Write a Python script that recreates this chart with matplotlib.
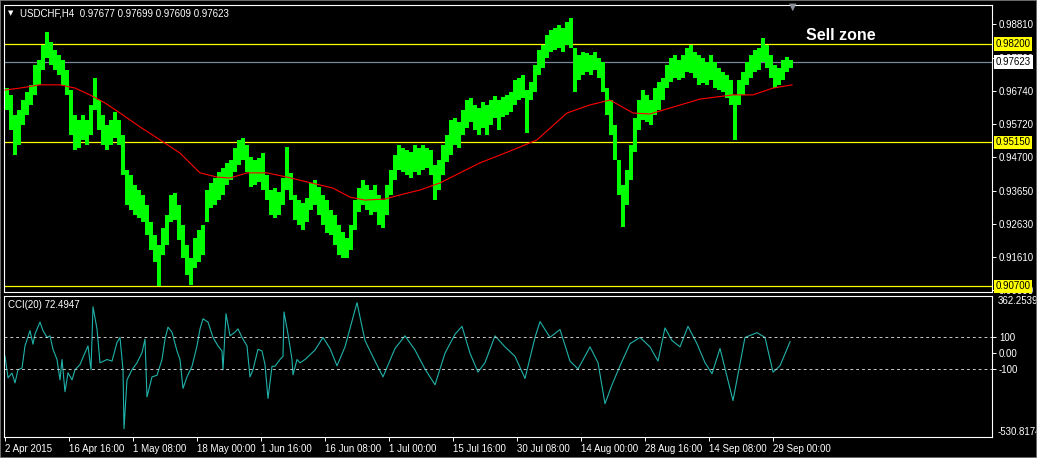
import numpy as np
import matplotlib.pyplot as plt
import matplotlib.transforms as mtransforms

# ---- data ----
# price range (high / low) for every group of 4 H4 bars, oldest first
hi = [0.9683, 0.9662, 0.9600, 0.9615, 0.9646, 0.9671, 0.9693, 0.9754, 0.9770, 0.9816,
      0.9856, 0.9825, 0.9801, 0.9785, 0.9770, 0.9739, 0.9677, 0.9600, 0.9584, 0.9600,
      0.9584, 0.9631, 0.9714, 0.9646, 0.9600, 0.9569, 0.9584, 0.9609, 0.9584, 0.9538,
      0.9430, 0.9414, 0.9384, 0.9368, 0.9353, 0.9322, 0.9269, 0.9229, 0.9198, 0.9251,
      0.9291, 0.9353, 0.9359, 0.9322, 0.9260, 0.9198, 0.9158, 0.9220, 0.9245, 0.9260,
      0.9368, 0.9390, 0.9405, 0.9424, 0.9436, 0.9452, 0.9461, 0.9498, 0.9523, 0.9529,
      0.9507, 0.9470, 0.9461, 0.9467, 0.9482, 0.9414, 0.9368, 0.9374, 0.9362, 0.9405,
      0.9501, 0.9421, 0.9353, 0.9337, 0.9328, 0.9343, 0.9390, 0.9399, 0.9377, 0.9353,
      0.9337, 0.9306, 0.9291, 0.9260, 0.9238, 0.9220, 0.9260, 0.9337, 0.9374, 0.9399,
      0.9384, 0.9368, 0.9384, 0.9353, 0.9337, 0.9384, 0.9430, 0.9476, 0.9507, 0.9498,
      0.9492, 0.9486, 0.9507, 0.9498, 0.9507, 0.9498, 0.9492, 0.9445, 0.9461, 0.9507,
      0.9538, 0.9584, 0.9591, 0.9578, 0.9615, 0.9646, 0.9652, 0.9631, 0.9622, 0.9640,
      0.9631, 0.9646, 0.9658, 0.9646, 0.9655, 0.9662, 0.9671, 0.9708, 0.9714, 0.9723,
      0.9677, 0.9702, 0.9754, 0.9801, 0.9816, 0.9847, 0.9862, 0.9869, 0.9878, 0.9869,
      0.9887, 0.9900, 0.9807, 0.9785, 0.9795, 0.9791, 0.9785, 0.9795, 0.9776, 0.9764,
      0.9683, 0.9646, 0.9569, 0.9461, 0.9384, 0.9430, 0.9507, 0.9591, 0.9646, 0.9677,
      0.9662, 0.9646, 0.9683, 0.9702, 0.9714, 0.9754, 0.9776, 0.9785, 0.9770, 0.9785,
      0.9807, 0.9816, 0.9795, 0.9785, 0.9776, 0.9764, 0.9785, 0.9764, 0.9745, 0.9733,
      0.9723, 0.9708, 0.9662, 0.9708, 0.9733, 0.9764, 0.9785, 0.9801, 0.9807, 0.9838,
      0.9816, 0.9785, 0.9754, 0.9745, 0.9770, 0.9779, 0.9770]
lo = [0.9615, 0.9554, 0.9476, 0.9507, 0.9569, 0.9600, 0.9631, 0.9662, 0.9693, 0.9739,
      0.9776, 0.9754, 0.9739, 0.9723, 0.9693, 0.9662, 0.9538, 0.9492, 0.9498, 0.9523,
      0.9507, 0.9538, 0.9615, 0.9554, 0.9507, 0.9492, 0.9507, 0.9529, 0.9507, 0.9414,
      0.9322, 0.9306, 0.9291, 0.9282, 0.9269, 0.9229, 0.9183, 0.9146, 0.9071, 0.9167,
      0.9198, 0.9269, 0.9275, 0.9214, 0.9158, 0.9105, 0.9074, 0.9127, 0.9146, 0.9167,
      0.9269, 0.9313, 0.9322, 0.9337, 0.9353, 0.9384, 0.9399, 0.9424, 0.9445, 0.9461,
      0.9424, 0.9377, 0.9384, 0.9393, 0.9368, 0.9337, 0.9291, 0.9282, 0.9291, 0.9322,
      0.9368, 0.9337, 0.9275, 0.9260, 0.9245, 0.9269, 0.9306, 0.9322, 0.9291, 0.9260,
      0.9235, 0.9229, 0.9198, 0.9167, 0.9158, 0.9158, 0.9183, 0.9245, 0.9300, 0.9322,
      0.9306, 0.9291, 0.9300, 0.9260, 0.9251, 0.9291, 0.9353, 0.9399, 0.9430, 0.9424,
      0.9414, 0.9405, 0.9424, 0.9414, 0.9430, 0.9436, 0.9414, 0.9337, 0.9368, 0.9414,
      0.9455, 0.9476, 0.9507, 0.9498, 0.9538, 0.9560, 0.9578, 0.9554, 0.9538, 0.9560,
      0.9538, 0.9569, 0.9591, 0.9554, 0.9594, 0.9600, 0.9609, 0.9631, 0.9646, 0.9652,
      0.9544, 0.9646, 0.9671, 0.9723, 0.9745, 0.9776, 0.9795, 0.9801, 0.9807, 0.9795,
      0.9816, 0.9807, 0.9671, 0.9708, 0.9723, 0.9733, 0.9723, 0.9739, 0.9714, 0.9671,
      0.9600, 0.9538, 0.9461, 0.9353, 0.9254, 0.9322, 0.9399, 0.9486, 0.9554, 0.9584,
      0.9578, 0.9569, 0.9600, 0.9615, 0.9646, 0.9683, 0.9702, 0.9714, 0.9708, 0.9714,
      0.9733, 0.9730, 0.9714, 0.9693, 0.9699, 0.9693, 0.9708, 0.9683, 0.9677, 0.9671,
      0.9652, 0.9631, 0.9523, 0.9631, 0.9662, 0.9693, 0.9714, 0.9733, 0.9739, 0.9764,
      0.9745, 0.9714, 0.9683, 0.9693, 0.9708, 0.9733, 0.9745]

# moving average (red line): bar index, value
ma_idx = [0, 15, 35, 55, 70, 85, 100, 115, 135, 155, 175, 195, 212, 225, 242, 262, 282,
          302, 328, 345, 360, 380, 395, 415, 435, 455, 475, 495, 515, 532, 562, 585, 605,
          628, 645, 682, 695, 728, 748, 768, 787]
ma = [0.9677, 0.9683, 0.9693, 0.9693, 0.9683, 0.9662, 0.9637, 0.9606, 0.9563, 0.9523,
      0.9482, 0.9421, 0.9408, 0.9405, 0.9421, 0.9421, 0.9408, 0.9393, 0.9374, 0.9346,
      0.9337, 0.9340, 0.9353, 0.9368, 0.9390, 0.9421, 0.9452, 0.9476, 0.9501, 0.9523,
      0.9606, 0.9631, 0.9646, 0.9606, 0.9603, 0.9637, 0.9649, 0.9662, 0.9662, 0.9683,
      0.9693]

# CCI(20): bar index, value
cci_idx = [0, 3, 7, 10, 13, 17, 20, 25, 28, 30, 35, 38, 42, 45, 48, 52, 55, 57, 60, 63,
           67, 70, 75, 80, 83, 86, 88, 92, 95, 102, 107, 112, 115, 118, 119, 122, 127, 132,
           137, 140, 142, 147, 152, 157, 160, 163, 167, 172, 175, 178, 182, 187, 192, 195,
           198, 203, 208, 213, 217, 218, 221, 225, 230, 233, 237, 242, 245, 248, 253, 257,
           260, 263, 267, 270, 275, 278, 279, 283, 287, 288, 292, 295,
           300, 310, 318, 325, 332, 340, 352, 360, 370, 378, 390, 400, 410, 420, 430, 440,
           450, 457, 465, 473, 480, 490, 500, 510, 520, 530, 535, 545, 555, 565, 573, 585,
           593, 600, 607, 615, 625, 635, 645, 653, 660, 667, 675, 683, 692, 700, 707, 715,
           728, 740, 752, 760, 768, 775, 785]
cci = [-19, -156, -126, -188, -105, -94, 46, 143, 57, 121, 197, 143, 100, 110, 25, -40,
       -169, -40, -244, -124, -169, -105, -72, 3, 46, -105, 294, 154, -61, -40, -50, 68, 100,
       -105, -479, -169, -105, -61, 3, 89, -277, -150, -140, -40, 89, 165, 133, 14, -40,
       -223, -150, -83, 46, 154, 218, 197, 100, 46, 14, -105, 250, 110, 133, 154, 100, 46,
       -150, -105, 25, 14, -72, -287, -83, -83, -40, -20, 261, 121, -40, -137, -40, -61,
       -40, 20, 100, 30, -80, 40, 320, 80, -50, -150, 30, 110, 20, -100, -200, 0,
       120, 170, 0, -120, -60, 110, 40, -20, -160, 100, 200, 100, 150, -50, -100, 40,
       -60, -320, -200, -80, 60, 100, 40, -50, 160, 80, 40, 170, 60, -60, -130, 30,
       -300, 100, 130, 100, -120, -80, 72]

levels_yellow = [0.98200, 0.95150, 0.90700]
bid = 0.97623
price_ticks = [0.98810, 0.97760, 0.96740, 0.95720, 0.94700, 0.93650, 0.92630, 0.91610, 0.90590]
date_pos = [0, 64, 128, 192, 256, 320, 384, 448, 512, 576, 640, 704, 768]
date_lbl = ['2 Apr 2015', '16 Apr 16:00', '1 May 08:00', '18 May 00:00', '1 Jun 16:00',
            '16 Jun 08:00', '1 Jul 00:00', '15 Jul 16:00', '30 Jul 08:00', '14 Aug 00:00',
            '28 Aug 16:00', '14 Sep 08:00', '29 Sep 00:00']
cci_top, cci_bot = 362.2539, -530.8174

# ---- layout in pixels ----
W, H = 1037, 458
fig = plt.figure(figsize=(W / 100, H / 100), dpi=100, facecolor='black')
FONT = 'Liberation Sans'
fs = 7


def box(l, t, r, b):
    return [l / W, 1 - b / H, (r - l) / W, (b - t) / H]


ax = fig.add_axes(box(4, 5, 992, 292), facecolor='black')
ax2 = fig.add_axes(box(4, 296, 992, 437), facecolor='black', sharex=ax)

for a in (ax, ax2):
    for s in a.spines.values():
        s.set_color('white')
        s.set_linewidth(0.8)
    a.yaxis.tick_right()
    a.tick_params(axis='y', colors='white', length=3, width=0.7, pad=2,
                  labelsize=fs, labelfontfamily=FONT)

ax.set_xlim(-1, 987)
ax.set_ylim(0.90529, 0.99397)

# price bars, one block per 4 bars
hi_a, lo_a = np.array(hi), np.array(lo)
grp = np.arange(len(hi_a)) * 4 + 1.5
ax.bar(grp, hi_a - lo_a, bottom=lo_a, width=4, color='#00ff00', linewidth=0, zorder=3)
ax.plot(ma_idx, ma, color='#ff0000', lw=0.8, zorder=4)
for lv in levels_yellow:
    ax.axhline(lv, color='#ffff00', lw=0.9, zorder=2)
ax.axhline(bid, color='#778899', lw=0.9, zorder=2)

ax.set_yticks(price_ticks)
ax.set_yticklabels(['%.5f' % p for p in price_ticks])
ax.tick_params(axis='x', bottom=False, labelbottom=False)

tr = mtransforms.blended_transform_factory(fig.transFigure, ax.transData)
for lv in levels_yellow:
    ax.text(995.5 / W, lv, '%.5f' % lv, transform=tr, va='center', ha='left', fontsize=fs,
            family=FONT, color='black', zorder=10,
            bbox=dict(facecolor='#ffff00', edgecolor='none', boxstyle='square,pad=0.2'))
ax.text(995.5 / W, bid, '%.5f' % bid, transform=tr, va='center', ha='left', fontsize=fs,
        family=FONT, color='black', zorder=10,
        bbox=dict(facecolor='white', edgecolor='none', boxstyle='square,pad=0.2'))

ax.text(806 / W, 1 - 36 / H, 'Sell zone', transform=fig.transFigure, color='white',
        fontsize=11.5, fontweight='bold', family=FONT, va='center', ha='left')

fig.text(8 / W, 1 - 13 / H, '\u25bc', color='white', fontsize=5, family='DejaVu Sans', va='center')
fig.text(20 / W, 1 - 13 / H, 'USDCHF,H4  0.97677 0.97699 0.97609 0.97623', color='white',
         fontsize=fs, family=FONT, va='center')
fig.text(793 / W, 1 - 6.5 / H, '\u25bc', color='#8a8f99', fontsize=7, family='DejaVu Sans',
         va='center', ha='center')

# CCI pane
ax2.plot(cci_idx, cci, color='#20b2aa', lw=0.8)
for lv in (100, -100):
    ax2.axhline(lv, color='#c8c8c8', lw=0.7, ls=(0, (3, 3)))
ax2.set_ylim(cci_bot, cci_top)
ax2.set_yticks([100, 0, -100])
ax2.set_yticklabels(['100', '0.00', '-100'])
tr2 = mtransforms.blended_transform_factory(fig.transFigure, ax2.transData)
ax2.text(998 / W, cci_top, '%.4f' % cci_top, transform=tr2, va='top', ha='left', color='white',
         fontsize=fs, family=FONT)
ax2.text(998 / W, cci_bot, '%.4f' % cci_bot, transform=tr2, va='bottom', ha='left', color='white',
         fontsize=fs, family=FONT)
ax2.text(8 / W, 1 - 305 / H, 'CCI(20) 72.4947', transform=fig.transFigure, color='white',
         fontsize=fs, family=FONT, va='center')

ax2.set_xticks(date_pos)
ax2.set_xticklabels(date_lbl, ha='left')
ax2.tick_params(axis='x', colors='white', length=3, width=0.7, pad=2, labelsize=fs,
                labelfontfamily=FONT)

# outer frame
fig.patches.append(plt.Rectangle((0, 0), 1, 1, transform=fig.transFigure, fill=False,
                                 edgecolor='#808080', lw=1.2))

fig.savefig('out.png', dpi=100, facecolor='black')
